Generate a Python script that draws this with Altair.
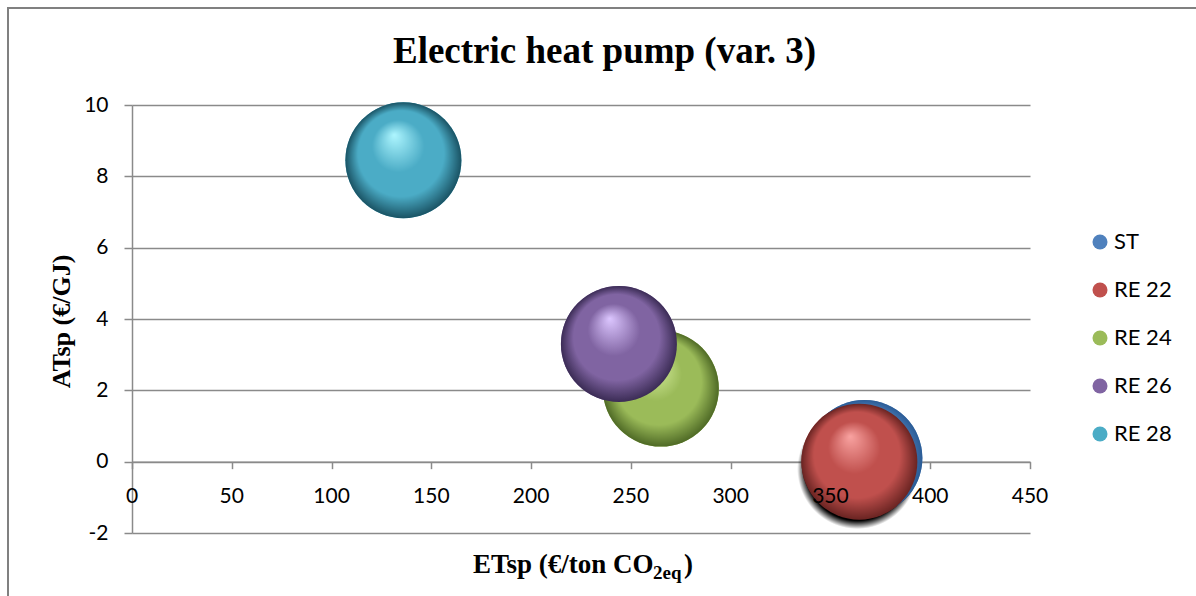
import altair as alt
import pandas as pd

# Series of the bubble chart
series = ["ST", "RE 22", "RE 24", "RE 26", "RE 28"]
etsp = [367.0, 364.5, 265.0, 244.0, 136.0]      # €/ton CO2eq
atsp = [0.1, 0.0, 2.05, 3.3, 8.45]              # €/GJ

# Sphere shading: highlight, body, rim
base_colors = ["#4f81bd", "#c0504d", "#9bbb59", "#8064a2", "#4bacc6"]
light_colors = ["#b3d4fa", "#f9a3a1", "#def5a8", "#dcc6ff", "#aef6ff"]
dark_colors = ["#2b5c96", "#6a2422", "#4f6a26", "#3b2c55", "#1a5364"]

x_ticks = list(range(0, 451, 50))
y_ticks = list(range(-2, 11, 2))

chart_title = "Electric heat pump (var. 3)"
y_title = "ATsp (€/GJ)"
x_title_parts = ["ETsp (€/ton CO", "2eq", ")"]

W, H = 898, 428
BUBBLE = 13456          # bounding-box area: 116 px diameter
SERIF = "Liberation Serif"
SANS = "Lato"
GRAY = "#8a8a8a"

df = pd.DataFrame({"series": series, "x": etsp, "y": atsp})

xs = alt.Scale(domain=[0, 450], nice=False, zero=False)
ys = alt.Scale(domain=[-2, 10], nice=False, zero=False)

# x axis crosses at y = 0; its labels are drawn as a top layer further down
x_enc = alt.X(
    "x:Q", scale=xs, title=None,
    axis=alt.Axis(values=x_ticks, offset=-(H * 2 / 12), grid=False,
                  labels=False, domainColor=GRAY, domainWidth=1.5,
                  tickColor=GRAY, tickWidth=1.5, tickSize=7),
)
y_enc = alt.Y(
    "y:Q", scale=ys, title=y_title,
    axis=alt.Axis(values=y_ticks, grid=True, gridColor=GRAY, gridWidth=1.5,
                  domainColor=GRAY, domainWidth=1.5, tickColor=GRAY,
                  tickWidth=1.5, tickSize=8, labelPadding=16,
                  labelExpr="'' + datum.value",
                  labelFont=SANS, labelFontSize=21, labelColor="#000000",
                  titleFont=SERIF, titleFontWeight="bold", titleFontSize=26,
                  titleColor="#000000", titleAngle=270, titleAlign="center",
                  titleBaseline="middle", titleX=-71, titleY=216),
)

# Flat layer carrying the legend
legend_layer = alt.Chart(df).mark_circle(opacity=1, size=BUBBLE).encode(
    x=x_enc, y=y_enc,
    color=alt.Color(
        "series:N",
        scale=alt.Scale(domain=series, range=base_colors),
        legend=alt.Legend(title=None, orient="none", legendX=957, legendY=126,
                          symbolType="circle", symbolSize=225,
                          labelFont=SANS, labelFontSize=22,
                          labelColor="#000000", labelOffset=3,
                          rowPadding=26, symbolStrokeWidth=0),
    ),
)


def sphere(i):
    grad = {
        "gradient": "radial",
        "x1": 0.42, "y1": 0.28, "r1": 0.0,
        "x2": 0.5, "y2": 0.5, "r2": 0.5,
        "stops": [
            {"offset": 0.0, "color": light_colors[i]},
            {"offset": 0.45, "color": base_colors[i]},
            {"offset": 0.74, "color": base_colors[i]},
            {"offset": 1.0, "color": dark_colors[i]},
        ],
    }
    return (
        alt.Chart(df)
        .transform_filter(alt.datum.series == series[i])
        .mark_circle(opacity=1, size=BUBBLE, fill=grad, strokeWidth=0)
        .encode(x=alt.X("x:Q", scale=xs), y=alt.Y("y:Q", scale=ys))
    )


# Soft dark shadow under the ST / RE 22 pair
shadow = (
    alt.Chart(df)
    .transform_filter(alt.datum.series == series[0])
    .mark_circle(
        opacity=1, size=14400, strokeWidth=0,
        fill={"gradient": "radial", "x1": 0.5, "y1": 0.5, "r1": 0.0,
              "x2": 0.5, "y2": 0.5, "r2": 0.5,
              "stops": [{"offset": 0.0, "color": "#000000"},
                        {"offset": 0.86, "color": "#000000"},
                        {"offset": 1.0, "color": "rgba(0,0,0,0)"}]},
    )
    .encode(x=alt.X("x:Q", scale=xs), y=alt.Y("y:Q", scale=ys),
            xOffset=alt.value(-7), yOffset=alt.value(11))
)

# x tick labels, drawn above the bubbles
x_labels = alt.Chart(pd.DataFrame({"v": x_ticks})).mark_text(
    font=SANS, fontSize=21, color="#000000", align="center",
    baseline="middle", dy=35
).encode(x=alt.X("v:Q", scale=xs), y=alt.datum(0, scale=ys),
         text=alt.Text("v:Q", format="d"))

# Outer chart frame
frame = alt.Chart(pd.DataFrame({"k": [0]})).mark_rect(
    fill="transparent", stroke="#808080", strokeWidth=2
).encode(x=alt.value(-124), y=alt.value(-97), x2=alt.value(1100), y2=alt.value(520))

title_text = alt.Chart(pd.DataFrame({"t": [chart_title]})).mark_text(
    font=SERIF, fontWeight="bold", fontSize=37, color="#000000",
    align="center", baseline="alphabetic"
).encode(text="t:N", x=alt.value(472.5), y=alt.value(-42))


def x_title_piece(txt, px, py, fs):
    return alt.Chart(pd.DataFrame({"t": [txt]})).mark_text(
        font=SERIF, fontWeight="bold", fontSize=fs, color="#000000",
        align="left", baseline="alphabetic"
    ).encode(text="t:N", x=alt.value(px), y=alt.value(py))


x_title = (
    x_title_piece(x_title_parts[0], 341, 468, 27)
    + x_title_piece(x_title_parts[1], 521, 474, 19)
    + x_title_piece(x_title_parts[2], 552, 468, 27)
)

chart = (
    alt.layer(frame, legend_layer, shadow, *[sphere(i) for i in range(5)],
              x_labels, title_text, x_title)
    .properties(width=W, height=H,
                autosize=alt.AutoSizeParams(type="none"),
                padding={"left": 132, "top": 105, "right": 166, "bottom": 63},
                background="#ffffff")
    .configure_view(strokeWidth=0)
)

chart.save("out.html", embed_options={"renderer": "svg", "actions": False})
